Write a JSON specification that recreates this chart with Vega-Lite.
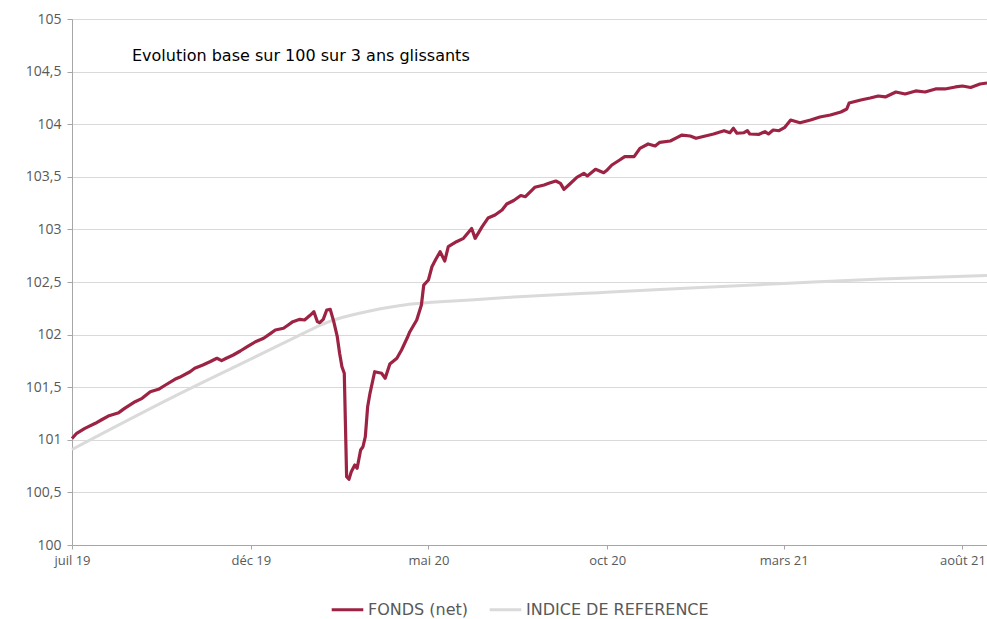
{
"$schema": "https://vega.github.io/schema/vega-lite/v6.json",
"autosize": "none",
"width": 915,
"height": 526,
"padding": {"left": 72, "top": 19, "right": 0, "bottom": 74},
"background": "white",
"title": {"text": "Evolution base sur 100 sur 3 ans glissants", "anchor": "start", "frame": "group", "orient": "top", "offset": -68, "dx": 60, "baseline": "bottom", "fontSize": 16, "fontWeight": "normal", "color": "#000000", "font": "DejaVu Sans"},
"data": {"values": [
{"serie":"INDICE DE REFERENCE","date":"2019-07-01","value":100.908},
{"serie":"INDICE DE REFERENCE","date":"2019-09-27","value":101.415},
{"serie":"INDICE DE REFERENCE","date":"2019-11-30","value":101.762},
{"serie":"INDICE DE REFERENCE","date":"2020-01-04","value":101.953},
{"serie":"INDICE DE REFERENCE","date":"2020-01-21","value":102.044},
{"serie":"INDICE DE REFERENCE","date":"2020-01-29","value":102.087},
{"serie":"INDICE DE REFERENCE","date":"2020-02-15","value":102.155},
{"serie":"INDICE DE REFERENCE","date":"2020-03-04","value":102.205},
{"serie":"INDICE DE REFERENCE","date":"2020-03-21","value":102.245},
{"serie":"INDICE DE REFERENCE","date":"2020-04-07","value":102.277},
{"serie":"INDICE DE REFERENCE","date":"2020-04-24","value":102.298},
{"serie":"INDICE DE REFERENCE","date":"2020-05-11","value":102.312},
{"serie":"INDICE DE REFERENCE","date":"2020-06-06","value":102.329},
{"serie":"INDICE DE REFERENCE","date":"2020-07-13","value":102.357},
{"serie":"INDICE DE REFERENCE","date":"2020-09-08","value":102.391},
{"serie":"INDICE DE REFERENCE","date":"2020-09-30","value":102.402},
{"serie":"INDICE DE REFERENCE","date":"2020-12-20","value":102.448},
{"serie":"INDICE DE REFERENCE","date":"2021-03-01","value":102.486},
{"serie":"INDICE DE REFERENCE","date":"2021-05-23","value":102.529},
{"serie":"INDICE DE REFERENCE","date":"2021-08-22","value":102.562},
{"serie":"FONDS (net)","date":"2019-07-01","value":101.012},
{"serie":"FONDS (net)","date":"2019-07-05","value":101.062},
{"serie":"FONDS (net)","date":"2019-07-12","value":101.109},
{"serie":"FONDS (net)","date":"2019-07-21","value":101.157},
{"serie":"FONDS (net)","date":"2019-07-26","value":101.188},
{"serie":"FONDS (net)","date":"2019-08-01","value":101.226},
{"serie":"FONDS (net)","date":"2019-08-10","value":101.258},
{"serie":"FONDS (net)","date":"2019-08-15","value":101.299},
{"serie":"FONDS (net)","date":"2019-08-24","value":101.362},
{"serie":"FONDS (net)","date":"2019-08-30","value":101.394},
{"serie":"FONDS (net)","date":"2019-09-06","value":101.457},
{"serie":"FONDS (net)","date":"2019-09-13","value":101.480},
{"serie":"FONDS (net)","date":"2019-09-19","value":101.521},
{"serie":"FONDS (net)","date":"2019-09-27","value":101.575},
{"serie":"FONDS (net)","date":"2019-10-01","value":101.594},
{"serie":"FONDS (net)","date":"2019-10-10","value":101.647},
{"serie":"FONDS (net)","date":"2019-10-14","value":101.680},
{"serie":"FONDS (net)","date":"2019-10-21","value":101.711},
{"serie":"FONDS (net)","date":"2019-10-27","value":101.742},
{"serie":"FONDS (net)","date":"2019-11-02","value":101.775},
{"serie":"FONDS (net)","date":"2019-11-06","value":101.752},
{"serie":"FONDS (net)","date":"2019-11-10","value":101.775},
{"serie":"FONDS (net)","date":"2019-11-16","value":101.806},
{"serie":"FONDS (net)","date":"2019-11-22","value":101.844},
{"serie":"FONDS (net)","date":"2019-11-28","value":101.885},
{"serie":"FONDS (net)","date":"2019-12-05","value":101.932},
{"serie":"FONDS (net)","date":"2019-12-12","value":101.965},
{"serie":"FONDS (net)","date":"2019-12-18","value":102.012},
{"serie":"FONDS (net)","date":"2019-12-22","value":102.044},
{"serie":"FONDS (net)","date":"2019-12-29","value":102.060},
{"serie":"FONDS (net)","date":"2020-01-02","value":102.091},
{"serie":"FONDS (net)","date":"2020-01-06","value":102.123},
{"serie":"FONDS (net)","date":"2020-01-12","value":102.145},
{"serie":"FONDS (net)","date":"2020-01-16","value":102.139},
{"serie":"FONDS (net)","date":"2020-01-21","value":102.186},
{"serie":"FONDS (net)","date":"2020-01-24","value":102.218},
{"serie":"FONDS (net)","date":"2020-01-27","value":102.123},
{"serie":"FONDS (net)","date":"2020-01-29","value":102.113},
{"serie":"FONDS (net)","date":"2020-02-01","value":102.145},
{"serie":"FONDS (net)","date":"2020-02-04","value":102.234},
{"serie":"FONDS (net)","date":"2020-02-07","value":102.240},
{"serie":"FONDS (net)","date":"2020-02-10","value":102.123},
{"serie":"FONDS (net)","date":"2020-02-13","value":101.980},
{"serie":"FONDS (net)","date":"2020-02-15","value":101.822},
{"serie":"FONDS (net)","date":"2020-02-17","value":101.695},
{"serie":"FONDS (net)","date":"2020-02-19","value":101.632},
{"serie":"FONDS (net)","date":"2020-02-21","value":100.649},
{"serie":"FONDS (net)","date":"2020-02-23","value":100.625},
{"serie":"FONDS (net)","date":"2020-02-25","value":100.697},
{"serie":"FONDS (net)","date":"2020-02-28","value":100.760},
{"serie":"FONDS (net)","date":"2020-03-01","value":100.729},
{"serie":"FONDS (net)","date":"2020-03-04","value":100.903},
{"serie":"FONDS (net)","date":"2020-03-06","value":100.934},
{"serie":"FONDS (net)","date":"2020-03-08","value":101.029},
{"serie":"FONDS (net)","date":"2020-03-10","value":101.315},
{"serie":"FONDS (net)","date":"2020-03-12","value":101.442},
{"serie":"FONDS (net)","date":"2020-03-16","value":101.647},
{"serie":"FONDS (net)","date":"2020-03-22","value":101.632},
{"serie":"FONDS (net)","date":"2020-03-25","value":101.585},
{"serie":"FONDS (net)","date":"2020-03-29","value":101.721},
{"serie":"FONDS (net)","date":"2020-04-04","value":101.775},
{"serie":"FONDS (net)","date":"2020-04-08","value":101.854},
{"serie":"FONDS (net)","date":"2020-04-13","value":101.972},
{"serie":"FONDS (net)","date":"2020-04-15","value":102.025},
{"serie":"FONDS (net)","date":"2020-04-21","value":102.139},
{"serie":"FONDS (net)","date":"2020-04-25","value":102.281},
{"serie":"FONDS (net)","date":"2020-04-27","value":102.471},
{"serie":"FONDS (net)","date":"2020-05-01","value":102.519},
{"serie":"FONDS (net)","date":"2020-05-04","value":102.645},
{"serie":"FONDS (net)","date":"2020-05-07","value":102.709},
{"serie":"FONDS (net)","date":"2020-05-11","value":102.788},
{"serie":"FONDS (net)","date":"2020-05-15","value":102.700},
{"serie":"FONDS (net)","date":"2020-05-18","value":102.836},
{"serie":"FONDS (net)","date":"2020-05-25","value":102.883},
{"serie":"FONDS (net)","date":"2020-05-31","value":102.915},
{"serie":"FONDS (net)","date":"2020-06-07","value":103.009},
{"serie":"FONDS (net)","date":"2020-06-10","value":102.915},
{"serie":"FONDS (net)","date":"2020-06-16","value":103.026},
{"serie":"FONDS (net)","date":"2020-06-21","value":103.108},
{"serie":"FONDS (net)","date":"2020-06-27","value":103.137},
{"serie":"FONDS (net)","date":"2020-07-03","value":103.184},
{"serie":"FONDS (net)","date":"2020-07-07","value":103.241},
{"serie":"FONDS (net)","date":"2020-07-13","value":103.275},
{"serie":"FONDS (net)","date":"2020-07-19","value":103.322},
{"serie":"FONDS (net)","date":"2020-07-23","value":103.311},
{"serie":"FONDS (net)","date":"2020-07-31","value":103.400},
{"serie":"FONDS (net)","date":"2020-08-08","value":103.422},
{"serie":"FONDS (net)","date":"2020-08-12","value":103.438},
{"serie":"FONDS (net)","date":"2020-08-18","value":103.460},
{"serie":"FONDS (net)","date":"2020-08-22","value":103.438},
{"serie":"FONDS (net)","date":"2020-08-25","value":103.381},
{"serie":"FONDS (net)","date":"2020-08-30","value":103.432},
{"serie":"FONDS (net)","date":"2020-09-05","value":103.495},
{"serie":"FONDS (net)","date":"2020-09-11","value":103.533},
{"serie":"FONDS (net)","date":"2020-09-14","value":103.508},
{"serie":"FONDS (net)","date":"2020-09-21","value":103.571},
{"serie":"FONDS (net)","date":"2020-09-28","value":103.539},
{"serie":"FONDS (net)","date":"2020-10-01","value":103.565},
{"serie":"FONDS (net)","date":"2020-10-05","value":103.612},
{"serie":"FONDS (net)","date":"2020-10-11","value":103.655},
{"serie":"FONDS (net)","date":"2020-10-16","value":103.691},
{"serie":"FONDS (net)","date":"2020-10-24","value":103.691},
{"serie":"FONDS (net)","date":"2020-10-29","value":103.771},
{"serie":"FONDS (net)","date":"2020-11-05","value":103.812},
{"serie":"FONDS (net)","date":"2020-11-11","value":103.793},
{"serie":"FONDS (net)","date":"2020-11-15","value":103.828},
{"serie":"FONDS (net)","date":"2020-11-24","value":103.840},
{"serie":"FONDS (net)","date":"2020-11-30","value":103.875},
{"serie":"FONDS (net)","date":"2020-12-04","value":103.897},
{"serie":"FONDS (net)","date":"2020-12-11","value":103.888},
{"serie":"FONDS (net)","date":"2020-12-16","value":103.866},
{"serie":"FONDS (net)","date":"2020-12-24","value":103.888},
{"serie":"FONDS (net)","date":"2020-12-31","value":103.907},
{"serie":"FONDS (net)","date":"2021-01-09","value":103.938},
{"serie":"FONDS (net)","date":"2021-01-14","value":103.919},
{"serie":"FONDS (net)","date":"2021-01-17","value":103.961},
{"serie":"FONDS (net)","date":"2021-01-20","value":103.914},
{"serie":"FONDS (net)","date":"2021-01-26","value":103.919},
{"serie":"FONDS (net)","date":"2021-01-29","value":103.938},
{"serie":"FONDS (net)","date":"2021-01-31","value":103.907},
{"serie":"FONDS (net)","date":"2021-02-08","value":103.904},
{"serie":"FONDS (net)","date":"2021-02-13","value":103.929},
{"serie":"FONDS (net)","date":"2021-02-16","value":103.907},
{"serie":"FONDS (net)","date":"2021-02-20","value":103.945},
{"serie":"FONDS (net)","date":"2021-02-25","value":103.938},
{"serie":"FONDS (net)","date":"2021-03-02","value":103.971},
{"serie":"FONDS (net)","date":"2021-03-07","value":104.040},
{"serie":"FONDS (net)","date":"2021-03-12","value":104.024},
{"serie":"FONDS (net)","date":"2021-03-15","value":104.014},
{"serie":"FONDS (net)","date":"2021-03-24","value":104.040},
{"serie":"FONDS (net)","date":"2021-04-01","value":104.068},
{"serie":"FONDS (net)","date":"2021-04-10","value":104.087},
{"serie":"FONDS (net)","date":"2021-04-19","value":104.116},
{"serie":"FONDS (net)","date":"2021-04-24","value":104.144},
{"serie":"FONDS (net)","date":"2021-04-26","value":104.202},
{"serie":"FONDS (net)","date":"2021-05-06","value":104.230},
{"serie":"FONDS (net)","date":"2021-05-14","value":104.249},
{"serie":"FONDS (net)","date":"2021-05-21","value":104.268},
{"serie":"FONDS (net)","date":"2021-05-27","value":104.259},
{"serie":"FONDS (net)","date":"2021-06-05","value":104.306},
{"serie":"FONDS (net)","date":"2021-06-13","value":104.287},
{"serie":"FONDS (net)","date":"2021-06-22","value":104.316},
{"serie":"FONDS (net)","date":"2021-06-30","value":104.306},
{"serie":"FONDS (net)","date":"2021-07-09","value":104.335},
{"serie":"FONDS (net)","date":"2021-07-17","value":104.335},
{"serie":"FONDS (net)","date":"2021-07-26","value":104.354},
{"serie":"FONDS (net)","date":"2021-08-01","value":104.363},
{"serie":"FONDS (net)","date":"2021-08-08","value":104.349},
{"serie":"FONDS (net)","date":"2021-08-16","value":104.382},
{"serie":"FONDS (net)","date":"2021-08-22","value":104.392}
]},
"encoding": {
  "x": {"field": "date", "type": "temporal",
    "scale": {"type": "utc", "domain": [{"year": 2019, "month": 7, "date": 1, "utc": true}, {"year": 2021, "month": 8, "date": 22, "utc": true}], "nice": false},
    "axis": {"title": null, "grid": false,
      "values": [{"year": 2019, "month": 7, "date": 1, "utc": true}, {"year": 2019, "month": 12, "date": 1, "utc": true}, {"year": 2020, "month": 5, "date": 1, "utc": true}, {"year": 2020, "month": 10, "date": 1, "utc": true}, {"year": 2021, "month": 3, "date": 1, "utc": true}, {"year": 2021, "month": 8, "date": 1, "utc": true}],
      "labelExpr": "['janv','févr','mars','avr','mai','juin','juil','août','sept','oct','nov','déc'][utcmonth(datum.value)] + ' ' + utcFormat(datum.value, '%y')",
      "domainColor": "#A6A6A6", "tickColor": "#A6A6A6", "tickSize": 4, "labelPadding": 5,
      "labelFont": "Open Sans", "labelFontSize": 13, "labelColor": "#595959", "labelFlush": false, "labelOverlap": false}},
  "y": {"field": "value", "type": "quantitative",
    "scale": {"domain": [100, 105], "nice": false, "zero": false},
    "axis": {"title": null, "values": [100, 100.5, 101, 101.5, 102, 102.5, 103, 103.5, 104, 104.5, 105],
      "labelExpr": "replace(format(datum.value, '~f'), '.', ',')",
      "grid": true, "gridColor": "#D9D9D9", "gridWidth": 1,
      "domainColor": "#A6A6A6", "tickColor": "#A6A6A6", "tickSize": 5, "labelPadding": 6,
      "labelFont": "Open Sans", "labelFontSize": 14, "labelColor": "#595959"}},
  "color": {"field": "serie", "type": "nominal",
    "scale": {"domain": ["FONDS (net)", "INDICE DE REFERENCE"], "range": ["#9C2343", "#DADADA"]},
    "legend": {"title": null, "orient": "none", "legendX": 258, "legendY": 573, "direction": "horizontal", "symbolType": "stroke", "symbolSize": 1000, "symbolStrokeWidth": 3,
      "labelFont": "DejaVu Sans", "labelFontSize": 16, "labelColor": "#595959", "labelOffset": 3, "columnPadding": 14, "labelLimit": 400}}
},
"layer": [
  {"transform": [{"filter": "datum.serie === 'INDICE DE REFERENCE'"}], "mark": {"type": "line", "strokeWidth": 3, "interpolate": "monotone"}},
  {"transform": [{"filter": "datum.serie === 'FONDS (net)'"}], "mark": {"type": "line", "strokeWidth": 3.2, "strokeJoin": "round"}}
]
}
